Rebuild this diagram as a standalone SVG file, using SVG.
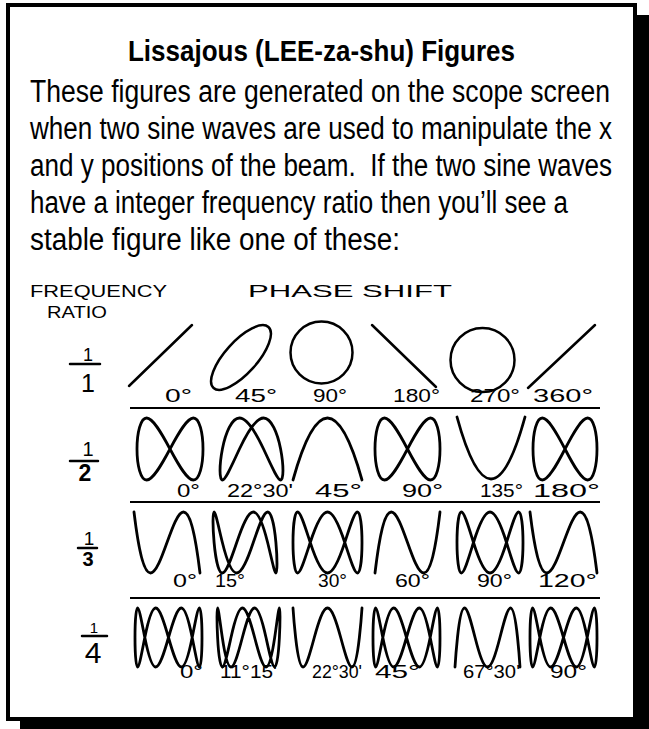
<svg xmlns="http://www.w3.org/2000/svg" xmlns:xlink="http://www.w3.org/1999/xlink" width="649" height="729" viewBox="0 0 649 729">
<style>
.c{fill:none;stroke:#000;stroke-width:2.8;vector-effect:non-scaling-stroke;stroke-linejoin:round;stroke-linecap:round}
.ln{fill:none;stroke:#000;stroke-width:2.5;stroke-linecap:round}
.rule{stroke:#000;stroke-width:2.2}
.body{font-family:"Liberation Sans",Arial,Helvetica,sans-serif;font-size:26.3px;fill:#000}
.title{font-family:"Liberation Sans",Arial,Helvetica,sans-serif;font-size:29.5px;font-weight:bold;fill:#000}
.hand{font-family:"Liberation Sans",Arial,sans-serif;font-size:17px;fill:#000}
.lab{font-family:"Liberation Sans",Arial,sans-serif;font-size:19px;fill:#000}
.num{font-family:"Liberation Sans",Arial,sans-serif;fill:#000;text-anchor:middle}
</style>
<defs>
<path id="A" class="c" d="M0,0 C.2618,.5236 .522,1 .7071,1 C.8922,1 1,.5236 1,0 C1,-.5236 .8922,-1 .7071,-1 C.522,-1 .2618,-.5236 0,0 C-.2618,.5236 -.522,1 -.7071,1 C-.8922,1 -1,.5236 -1,0 C-1,-.5236 -.8922,-1 -.7071,-1 C-.522,-1 -.2618,-.5236 0,0Z"/>
<path id="B" class="c" d="M-.3827,0 C-.1408,.5236 .1408,1 .3827,1 C.6246,1 .8237,.5236 .9239,0 C1.0241,-.5236 1.0241,-1 .9239,-1 C.8237,-1 .6246,-.5236 .3827,0 C.1408,.5236 -.1408,1 -.3827,1 C-.6246,1 -.8237,.5236 -.9239,0 C-1.0241,-.5236 -1.0241,-1 -.9239,-1 C-.8237,-1 -.6246,-.5236 -.3827,0Z"/>
<path id="C" class="c" d="M-1,-1 Q0,3 1,-1"/>
<path id="D" class="c" d="M-1,1 C-.3333,-5 .3333,5 1,-1"/>
<path id="E" class="c" d="M0,1 C.1745,1 .3489,.5236 .5,0 C.6511,-.5236 .7787,-1 .866,-1 C.9533,-1 1,-.5236 1,0 C1,.5236 .9533,1 .866,1 C.7787,1 .6511,.5236 .5,0 C.3489,-.5236 .1745,-1 0,-1 C-.1745,-1 -.3489,-.5236 -.5,0 C-.6511,.5236 -.7787,1 -.866,1 C-.9533,1 -1,.5236 -1,0 C-1,-.5236 -.9533,-1 -.866,-1 C-.7787,-1 -.6511,-.5236 -.5,0 C-.3489,.5236 -.1745,1 0,1Z"/>
<path id="F" class="c" d="M-.2588,0 C-.0902,.5236 .0902,1 .2588,1 C.4274,1 .5837,.5236 .7071,0 C.8305,-.5236 .9207,-1 .9659,-1 C1.0111,-1 1.0111,-.5236 .9659,0 C.9207,.5236 .8305,1 .7071,1 C.5837,1 .4274,.5236 .2588,0 C.0902,-.5236 -.0902,-1 -.2588,-1 C-.4274,-1 -.5837,-.5236 -.7071,0 C-.8305,.5236 -.9207,1 -.9659,1 C-1.0111,1 -1.0111,.5236 -.9659,0 C-.9207,-.5236 -.8305,-1 -.7071,-1 C-.5837,-1 -.4274,-.5236 -.2588,0Z"/>
<path id="G" class="c" d="M0,0 C.1309,.5236 .2618,1 .3827,1 C.5036,1 .6145,.5236 .7071,0 C.7997,-.5236 .8738,-1 .9239,-1 C.974,-1 1,-.5236 1,0 C1,.5236 .974,1 .9239,1 C.8738,1 .7997,.5236 .7071,0 C.6145,-.5236 .5036,-1 .3827,-1 C.2618,-1 .1309,-.5236 0,0 C-.1309,.5236 -.2618,1 -.3827,1 C-.5036,1 -.6145,.5236 -.7071,0 C-.7997,-.5236 -.8738,-1 -.9239,-1 C-.974,-1 -1,-.5236 -1,0 C-1,.5236 -.974,1 -.9239,1 C-.8738,1 -.7997,.5236 -.7071,0 C-.6145,-.5236 -.5036,-1 -.3827,-1 C-.2618,-1 -.1309,-.5236 0,0Z"/>
<path id="H" class="c" d="M-.1951,0 C-.0667,.5236 .0667,1 .1951,1 C.3235,1 .4468,.5236 .5556,0 C.6644,-.5236 .7588,-1 .8315,-1 C.9042,-1 .9553,-.5236 .9808,0 C1.0063,.5236 1.0063,1 .9808,1 C.9553,1 .9042,.5236 .8315,0 C.7588,-.5236 .6644,-1 .5556,-1 C.4468,-1 .3235,-.5236 .1951,0 C.0667,.5236 -.0667,1 -.1951,1 C-.3235,1 -.4468,.5236 -.5556,0 C-.6644,-.5236 -.7588,-1 -.8315,-1 C-.9042,-1 -.9553,-.5236 -.9808,0 C-1.0063,.5236 -1.0063,1 -.9808,1 C-.9553,1 -.9042,.5236 -.8315,0 C-.7588,-.5236 -.6644,-1 -.5556,-1 C-.4468,-1 -.3235,-.5236 -.1951,0Z"/>
<path id="I" class="c" d="M-1,1 C-1,1 -.974,.5236 -.9239,0 C-.8738,-.5236 -.7997,-1 -.7071,-1 C-.6145,-1 -.5036,-.5236 -.3827,0 C-.2618,.5236 -.1309,1 0,1 C.1309,1 .2618,.5236 .3827,0 C.5036,-.5236 .6145,-1 .7071,-1 C.7997,-1 .8738,-.5236 .9239,0 C.974,.5236 1,1 1,1"/>
</defs>

<g id="frame">
<rect x="20" y="15" width="629" height="714" fill="#000"/>
<rect x="8" y="5" width="627" height="714" fill="#fff" stroke="#000" stroke-width="4"/>
</g>

<g id="heading">
<text class="title" x="128" y="61" textLength="387" lengthAdjust="spacingAndGlyphs">Lissajous (LEE-za-shu) Figures</text>
<text class="body" transform="translate(30 102) scale(1 1.21)" textLength="580" lengthAdjust="spacingAndGlyphs">These figures are generated on the scope screen</text>
<text class="body" transform="translate(30 139) scale(1 1.21)" textLength="582" lengthAdjust="spacingAndGlyphs">when two sine waves are used to manipulate the x</text>
<text class="body" transform="translate(30 176) scale(1 1.21)" xml:space="preserve" textLength="582" lengthAdjust="spacingAndGlyphs">and y positions of the beam.  If the two sine waves</text>
<text class="body" transform="translate(30 213) scale(1 1.21)" textLength="538" lengthAdjust="spacingAndGlyphs">have a integer frequency ratio then you’ll see a</text>
<text class="body" transform="translate(30 250) scale(1 1.21)" textLength="370" lengthAdjust="spacingAndGlyphs">stable figure like one of these:</text>
</g>

<g id="axis-labels">
<text class="hand" x="30" y="297" textLength="137" lengthAdjust="spacingAndGlyphs">FREQUENCY</text>
<text class="hand" x="47" y="318" textLength="60" lengthAdjust="spacingAndGlyphs">RATIO</text>
<text class="hand" x="248" y="297" textLength="204" lengthAdjust="spacingAndGlyphs">PHASE SHIFT</text>
</g>

<g id="ratio-1-1">
<text class="num" x="88" y="361" font-size="18">1</text>
<line class="ln" x1="70" y1="364" x2="100" y2="364" stroke-width="1.6"/>
<text class="num" x="88" y="392" font-size="25">1</text>
</g>
<g id="ratio-1-2">
<text class="num" x="88" y="456" font-size="20">1</text>
<line class="ln" x1="70" y1="461" x2="98" y2="461" stroke-width="2.6"/>
<text class="num" x="85" y="481" font-size="23" font-weight="bold">2</text>
</g>
<g id="ratio-1-3">
<text class="num" x="89" y="545" font-size="19">1</text>
<line class="ln" x1="78" y1="548" x2="97" y2="548" stroke-width="2.6"/>
<text class="num" x="88" y="566" font-size="20" font-weight="bold">3</text>
</g>
<g id="ratio-1-4">
<text class="num" x="94" y="633" font-size="15">1</text>
<line class="ln" x1="82" y1="636" x2="107" y2="636" stroke-width="2.4"/>
<text class="num" x="93" y="663" font-size="30">4</text>
</g>

<g id="rules">
<line class="rule" x1="130" y1="408" x2="600" y2="408"/>
<line class="rule" x1="130" y1="502" x2="600" y2="502"/>
<line class="rule" x1="130" y1="598" x2="600" y2="598"/>
</g>

<g id="r1-0"><line class="ln" x1="129" y1="386" x2="192" y2="325"/><text class="lab" x="165" y="402" textLength="27" lengthAdjust="spacingAndGlyphs">0°</text></g>
<g id="r1-45"><ellipse class="ln" cx="241" cy="357.5" rx="41" ry="16" transform="rotate(-48 241 357.5)"/><text class="lab" x="235" y="402" textLength="42" lengthAdjust="spacingAndGlyphs">45°</text></g>
<g id="r1-90"><circle class="ln" cx="321.5" cy="352.5" r="31"/><text class="lab" x="313" y="402" textLength="34" lengthAdjust="spacingAndGlyphs">90°</text></g>
<g id="r1-180"><line class="ln" x1="372" y1="325" x2="436" y2="387"/><text class="lab" x="393" y="402" textLength="47" lengthAdjust="spacingAndGlyphs">180°</text></g>
<g id="r1-270"><circle class="ln" cx="482.5" cy="360" r="32"/><text class="lab" x="470" y="402" textLength="50" lengthAdjust="spacingAndGlyphs">270°</text></g>
<g id="r1-360"><line class="ln" x1="528" y1="388" x2="595" y2="325"/><text class="lab" x="533" y="402" textLength="60" lengthAdjust="spacingAndGlyphs">360°</text></g>

<g id="r2-0"><use href="#A" transform="translate(170 449) scale(33 -31)"/><text class="lab" x="177" y="497" textLength="23" lengthAdjust="spacingAndGlyphs">0°</text></g>
<g id="r2-22"><use href="#B" transform="translate(251.5 449) scale(31.5 -31)"/><text class="lab" x="227" y="497" textLength="66" lengthAdjust="spacingAndGlyphs">22°30'</text></g>
<g id="r2-45"><use href="#C" transform="translate(327.5 449) scale(34.5 -31)"/><text class="lab" x="315" y="497" textLength="47" lengthAdjust="spacingAndGlyphs">45°</text></g>
<g id="r2-90"><use href="#A" transform="translate(407.5 449) scale(32.5 -31)"/><text class="lab" x="402" y="497" textLength="41" lengthAdjust="spacingAndGlyphs">90°</text></g>
<g id="r2-135"><use href="#C" transform="translate(491 448) scale(34 31)"/><text class="lab" x="480" y="497" textLength="43" lengthAdjust="spacingAndGlyphs">135°</text></g>
<g id="r2-180"><use href="#A" transform="translate(565 449) scale(32 -31)"/><text class="lab" x="533" y="497" textLength="67" lengthAdjust="spacingAndGlyphs">180°</text></g>

<g id="r3-0"><use href="#D" transform="translate(167 542.5) scale(33 -30.5)"/><text class="lab" x="173" y="587" textLength="24" lengthAdjust="spacingAndGlyphs">0°</text></g>
<g id="r3-15"><use href="#F" transform="translate(245 542.5) scale(32 -30.5)"/><text class="lab" x="215" y="587" textLength="30" lengthAdjust="spacingAndGlyphs">15°</text></g>
<g id="r3-30"><use href="#E" transform="translate(327.5 542.5) scale(34.5 -30.5)"/><text class="lab" x="318" y="587" textLength="29" lengthAdjust="spacingAndGlyphs">30°</text></g>
<g id="r3-60"><use href="#D" transform="translate(407.5 542.5) scale(32.5 30.5)"/><text class="lab" x="395" y="587" textLength="35" lengthAdjust="spacingAndGlyphs">60°</text></g>
<g id="r3-90"><use href="#E" transform="translate(490 542.5) scale(33 -30.5)"/><text class="lab" x="477" y="587" textLength="35" lengthAdjust="spacingAndGlyphs">90°</text></g>
<g id="r3-120"><use href="#D" transform="translate(563.5 542.5) scale(33.5 -30.5)"/><text class="lab" x="538" y="587" textLength="59" lengthAdjust="spacingAndGlyphs">120°</text></g>

<g id="r4-0"><use href="#G" transform="translate(168.5 637.5) scale(33.5 -29.5)"/><text class="lab" x="180" y="678" textLength="23" lengthAdjust="spacingAndGlyphs">0°</text></g>
<g id="r4-11"><use href="#H" transform="translate(248.5 637.5) scale(31.5 -29.5)"/><text class="lab" x="220" y="678" textLength="57" lengthAdjust="spacingAndGlyphs">11°15'</text></g>
<g id="r4-22"><use href="#I" transform="translate(327.5 637.5) scale(34.5 -29.5)"/><text class="lab" x="312" y="678" textLength="50" lengthAdjust="spacingAndGlyphs">22°30'</text></g>
<g id="r4-45"><use href="#G" transform="translate(406.5 637.5) scale(33.5 -29.5)"/><text class="lab" x="375" y="678" textLength="45" lengthAdjust="spacingAndGlyphs">45°</text></g>
<g id="r4-67"><use href="#I" transform="translate(487.5 637.5) scale(32.5 29.5)"/><text class="lab" x="463" y="678" textLength="57" lengthAdjust="spacingAndGlyphs">67°30'</text></g>
<g id="r4-90"><use href="#G" transform="translate(563.5 637.5) scale(33.5 -29.5)"/><text class="lab" x="550" y="678" textLength="37" lengthAdjust="spacingAndGlyphs">90°</text></g>
</svg>
